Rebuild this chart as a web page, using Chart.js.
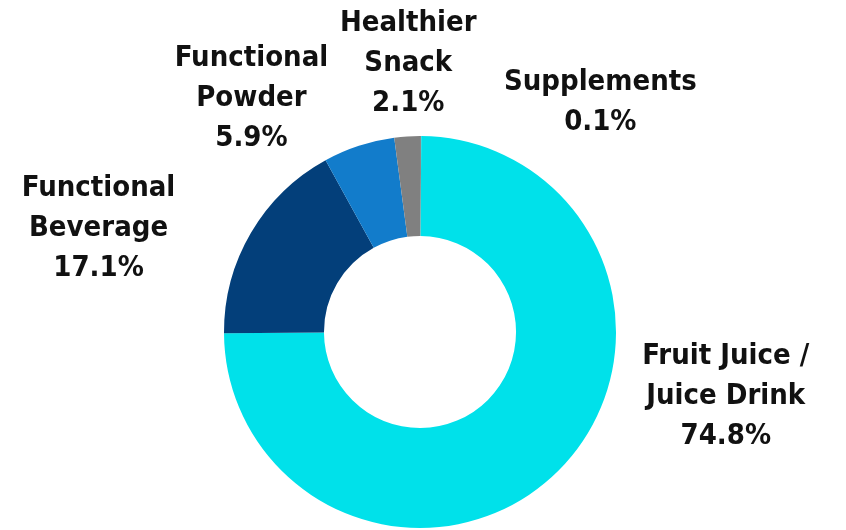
<!DOCTYPE html>
<html>
<head>
<meta charset="utf-8">
<script src="https://cdn.jsdelivr.net/npm/chart.js@4.4.1/dist/chart.umd.min.js"></script>
<style>
  html, body { margin: 0; padding: 0; background: #fff; }
  #wrap { width: 846px; height: 530px; }
</style>
</head>
<body>
<div id="wrap"><canvas id="chart" width="846" height="530"></canvas></div>
<script>
// data (share of total, %)
const categories = ['Supplements', 'Fruit Juice / Juice Drink', 'Functional Beverage', 'Functional Powder', 'Healthier Snack'];
const shares = [0.1, 74.8, 17.1, 5.9, 2.1];
const sliceColors = ['#8a8a8a', '#00e1ea', '#033f7a', '#127ccb', '#808080'];

// label text lines for each category
const labelLines = [
  ['Supplements'],
  ['Fruit Juice /', 'Juice Drink'],
  ['Functional', 'Beverage'],
  ['Functional', 'Powder'],
  ['Healthier', 'Snack']
];

// where each label block is centred, relative to the donut centre, in units of its radius
const labelAnchors = [
  [0.92, -1.17],
  [1.56, 0.33],
  [-1.64, -0.53],
  [-0.86, -1.19],
  [-0.06, -1.37]
];

const FONT = 'bold 29px "DejaVu Sans Condensed", "DejaVu Sans", sans-serif';
const LINE_H = 40;

// draws the outside labels with their percentages
const outsideLabels = {
  id: 'outsideLabels',
  afterDraw(chart) {
    const ctx = chart.ctx;
    const arc = chart.getDatasetMeta(0).data[0];
    const cx = arc.x, cy = arc.y, r = arc.outerRadius;
    ctx.save();
    ctx.font = FONT;
    ctx.fillStyle = '#111';
    ctx.textAlign = 'center';
    ctx.textBaseline = 'middle';
    categories.forEach((cat, i) => {
      const lines = labelLines[i].concat([shares[i].toFixed(1) + '%']);
      const x = cx + labelAnchors[i][0] * r;
      const y0 = cy + labelAnchors[i][1] * r - (lines.length - 1) * LINE_H / 2;
      lines.forEach((t, j) => ctx.fillText(t, x, y0 + j * LINE_H));
    });
    ctx.restore();
  }
};

new Chart(document.getElementById('chart'), {
  type: 'doughnut',
  data: {
    labels: categories,
    datasets: [{
      data: shares,
      backgroundColor: sliceColors,
      borderWidth: 0
    }]
  },
  plugins: [outsideLabels],
  options: {
    responsive: false,
    animation: false,
    cutout: '49%',
    layout: { padding: { left: 224, right: 230, top: 136, bottom: 2 } },
    plugins: {
      legend: { display: false },
      tooltip: { enabled: false }
    }
  }
});
</script>
</body>
</html>
